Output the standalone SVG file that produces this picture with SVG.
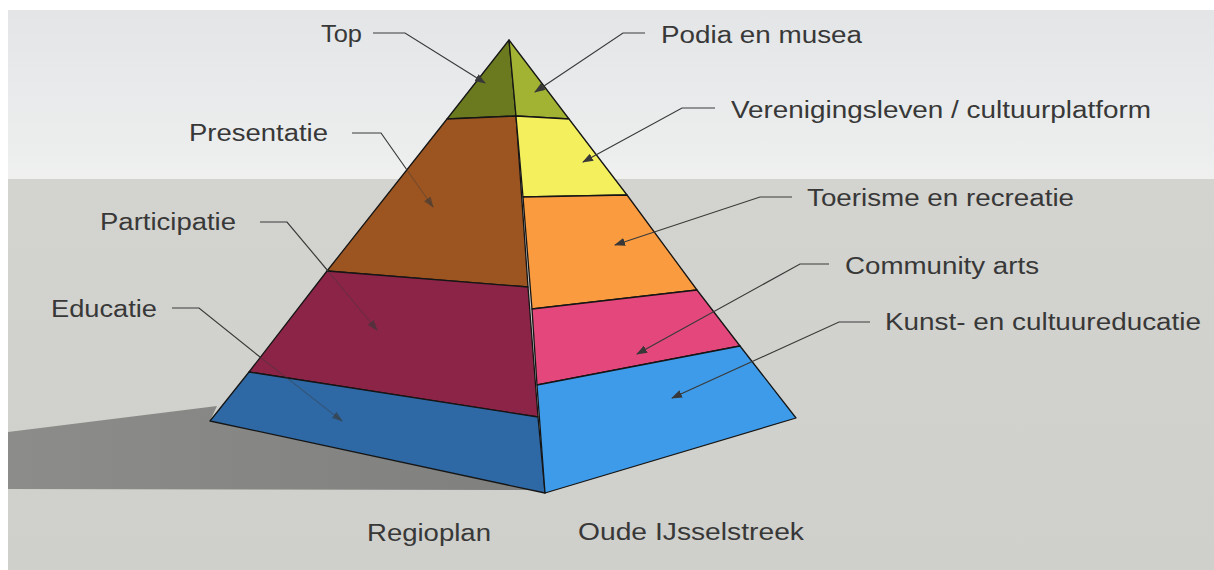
<svg xmlns="http://www.w3.org/2000/svg" width="1214" height="570" viewBox="0 0 1214 570">
  <defs>
    <linearGradient id="sky" x1="0" y1="0" x2="0" y2="1">
      <stop offset="0" stop-color="#e3e5e7"/>
      <stop offset="0.85" stop-color="#eceeee"/>
      <stop offset="1" stop-color="#f0f1ef"/>
    </linearGradient>
    <linearGradient id="ground" x1="0" y1="0" x2="0" y2="1">
      <stop offset="0" stop-color="#d3d3cf"/>
      <stop offset="1" stop-color="#cfcfcb"/>
    </linearGradient>
    <linearGradient id="shadow" x1="0" y1="0" x2="1" y2="0">
      <stop offset="0" stop-color="#8c8c8a"/>
      <stop offset="1" stop-color="#7f7f7d"/>
    </linearGradient>
    <marker id="arrow" markerUnits="userSpaceOnUse" markerWidth="11" markerHeight="8" refX="10" refY="4" orient="auto">
      <path d="M0,0 L11,4 L0,8 Z" fill="#383838"/>
    </marker>
    <marker id="arrow-faint" markerUnits="userSpaceOnUse" markerWidth="11" markerHeight="8" refX="10" refY="4" orient="auto">
      <path d="M0,0 L11,4 L0,8 Z" fill="#383838" fill-opacity="0.6"/>
    </marker>
    <style>
      .face { stroke: #151515; stroke-width: 1.3; stroke-linejoin: round; }
      .lbl { font-family: "Liberation Sans", Arial, sans-serif; font-size: 23.5px; fill: #383838; }
      .lead { fill: none; stroke: #3a3a3a; stroke-width: 1.2; }
      .lead-in { fill: none; stroke: #3a3a3a; stroke-width: 1.1; stroke-opacity: 0.4; }
    </style>
  </defs>

  <rect x="0" y="0" width="1214" height="570" fill="#ffffff"/>
  <rect x="8" y="10" width="1206" height="169" fill="url(#sky)"/>
  <rect x="8" y="179" width="1206" height="391" fill="url(#ground)"/>
  <polygon points="8,432 217,406 210,421 545,493 545,490 8,489" fill="url(#shadow)"/>

  <g id="pyramid">
    <g id="layer-top">
      <polygon class="face" points="509,40 447,119 516,116" fill="#6c7a1f"/>
      <polygon class="face" points="509,40 516,116 569,119" fill="#a2b334"/>
    </g>
    <g id="layer-presentatie">
      <polygon class="face" points="447,119 327,271 528,287 516,116" fill="#9c5521"/>
    </g>
    <g id="layer-verenigingsleven">
      <polygon class="face" points="516,116 523,197 627,195 569,119" fill="#f4ef5c"/>
    </g>
    <g id="layer-toerisme">
      <polygon class="face" points="523,197 532,309 697,290 627,195" fill="#fb9b3f"/>
    </g>
    <g id="layer-participatie">
      <polygon class="face" points="327,271 249,372 538,417 528,287" fill="#8c2447"/>
    </g>
    <g id="layer-community">
      <polygon class="face" points="532,309 537,385 740,346 697,290" fill="#e4477b"/>
    </g>
    <g id="layer-educatie">
      <polygon class="face" points="249,372 210,421 545,493 538,417" fill="#2e69a6"/>
    </g>
    <g id="layer-kunst">
      <polygon class="face" points="537,385 545,493 796,418 740,346" fill="#3d9be9"/>
    </g>
  </g>

  <g id="connectors">
    <path class="lead" d="M373,33 L405,33 L485,83" marker-end="url(#arrow)"/>
    <path class="lead" d="M352,133 L381,133 L407,170"/>
    <path class="lead-in" d="M407,170 L433,207" marker-end="url(#arrow-faint)"/>
    <path class="lead" d="M260,222 L287,222 L328,271"/>
    <path class="lead-in" d="M328,271 L377,330" marker-end="url(#arrow-faint)"/>
    <path class="lead" d="M172,308 L199,308 L260,357"/>
    <path class="lead-in" d="M260,357 L342,421" marker-end="url(#arrow-faint)"/>
    <path class="lead" d="M645,33 L623,33 L535,92" marker-end="url(#arrow)"/>
    <path class="lead" d="M715,108 L682,108 L583,162" marker-end="url(#arrow)"/>
    <path class="lead" d="M792,197 L760,197 L615,245" marker-end="url(#arrow)"/>
    <path class="lead" d="M829,264 L800,264 L637,354" marker-end="url(#arrow)"/>
    <path class="lead" d="M870,322 L839,322 L672,398" marker-end="url(#arrow)"/>
  </g>

  <g id="labels">
    <g id="label-top"><text class="lbl" x="321" y="42" textLength="41" lengthAdjust="spacingAndGlyphs">Top</text></g>
    <g id="label-presentatie"><text class="lbl" x="189" y="141" textLength="139" lengthAdjust="spacingAndGlyphs">Presentatie</text></g>
    <g id="label-participatie"><text class="lbl" x="100" y="230" textLength="136" lengthAdjust="spacingAndGlyphs">Participatie</text></g>
    <g id="label-educatie"><text class="lbl" x="51" y="317" textLength="106" lengthAdjust="spacingAndGlyphs">Educatie</text></g>
    <g id="label-podia"><text class="lbl" x="661" y="43" textLength="201" lengthAdjust="spacingAndGlyphs">Podia en musea</text></g>
    <g id="label-verenigingsleven"><text class="lbl" x="731" y="118" textLength="420" lengthAdjust="spacingAndGlyphs">Verenigingsleven / cultuurplatform</text></g>
    <g id="label-toerisme"><text class="lbl" x="807" y="206" textLength="267" lengthAdjust="spacingAndGlyphs">Toerisme en recreatie</text></g>
    <g id="label-community"><text class="lbl" x="845" y="274" textLength="194" lengthAdjust="spacingAndGlyphs">Community arts</text></g>
    <g id="label-kunst"><text class="lbl" x="885" y="330" textLength="316" lengthAdjust="spacingAndGlyphs">Kunst- en cultuureducatie</text></g>
    <g id="label-regioplan"><text class="lbl" x="367" y="541" textLength="124" lengthAdjust="spacingAndGlyphs">Regioplan</text></g>
    <g id="label-oude"><text class="lbl" x="578" y="540" textLength="226" lengthAdjust="spacingAndGlyphs">Oude IJsselstreek</text></g>
  </g>
</svg>
